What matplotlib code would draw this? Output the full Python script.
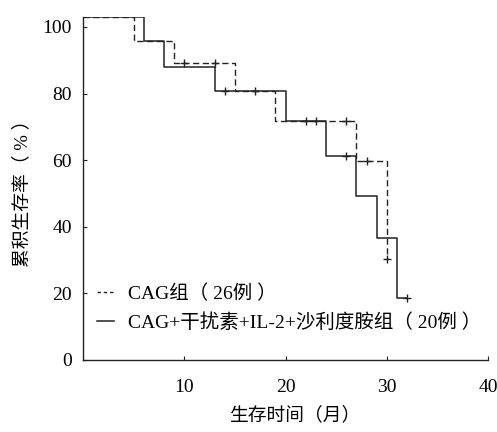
import matplotlib
matplotlib.use("Agg")
import matplotlib.pyplot as plt
from matplotlib.lines import Line2D

plt.rcParams['font.family'] = ['Liberation Serif', 'Noto Sans CJK SC']

# Data
cag_t = [0, 5, 9, 15, 19, 27, 30]
cag_s = [102.9, 95.8, 89.2, 80.9, 71.9, 59.8, 30.3]
cag_cens_t = [10, 13, 26, 28, 30]
cag_cens_s = [89.2, 89.2, 71.9, 59.8, 30.3]

combo_t = [0, 6, 8, 13, 20, 24, 27, 29, 31, 32]
combo_s = [102.9, 95.8, 87.9, 80.9, 71.9, 61.3, 49.2, 36.7, 18.7, 18.7]
combo_cens_t = [14, 17, 22, 23, 26, 32]
combo_cens_s = [80.9, 80.9, 71.9, 71.9, 61.3, 18.7]

xticks = [10, 20, 30, 40]
yticks = [0, 20, 40, 60, 80, 100]
labels = ["CAG组（ 26例 ）", "CAG+干扰素+IL-2+沙利度胺组（ 20例 ）"]

fig = plt.figure(figsize=(4.97, 4.32), dpi=100)
ax = fig.add_axes([83/497, 72/432, 405/497, 343/432])

lc = '#222222'
ax.step(cag_t, cag_s, where='post', color=lc, lw=1.0, linestyle=(0, (4.5, 2.5)))
ax.step(combo_t, combo_s, where='post', color=lc, lw=1.1)
ax.plot(cag_cens_t, cag_cens_s, linestyle='none', marker='+', ms=6, mew=1.0, color=lc)
ax.plot(combo_cens_t, combo_cens_s, linestyle='none', marker='+', ms=6, mew=1.0, color=lc)

ax.set_xlim(0, 40)
ax.set_ylim(0, 103)
ax.set_xticks(xticks)
ax.set_yticks(yticks)
ax.spines['top'].set_visible(False)
ax.spines['right'].set_visible(False)
for s in ['left', 'bottom']:
    ax.spines[s].set_color(lc)
    ax.spines[s].set_linewidth(1.0)
ax.tick_params(axis='x', direction='in', length=3, pad=14, labelsize=14, color=lc)
ax.tick_params(axis='y', direction='in', length=3, pad=8, labelsize=14, color=lc)

ax.set_xlabel("生存时间（月）", fontsize=13.5, labelpad=9)
ax.xaxis.set_label_coords(0.523, -0.135)
ax.set_ylabel("累积生存率（ % ）", fontsize=13.5, labelpad=8)

handles = [Line2D([], [], color=lc, lw=1.0, linestyle=(0, (2.5, 2))),
           Line2D([], [], color=lc, lw=1.1)]
ax.legend(handles, labels, loc='lower left', bbox_to_anchor=(0.015, 0.06),
          frameon=False, handlelength=0.9, handletextpad=0.7,
          labelspacing=0.5, borderaxespad=0, prop={'size': 14})

fig.savefig("out.png", dpi=100)
